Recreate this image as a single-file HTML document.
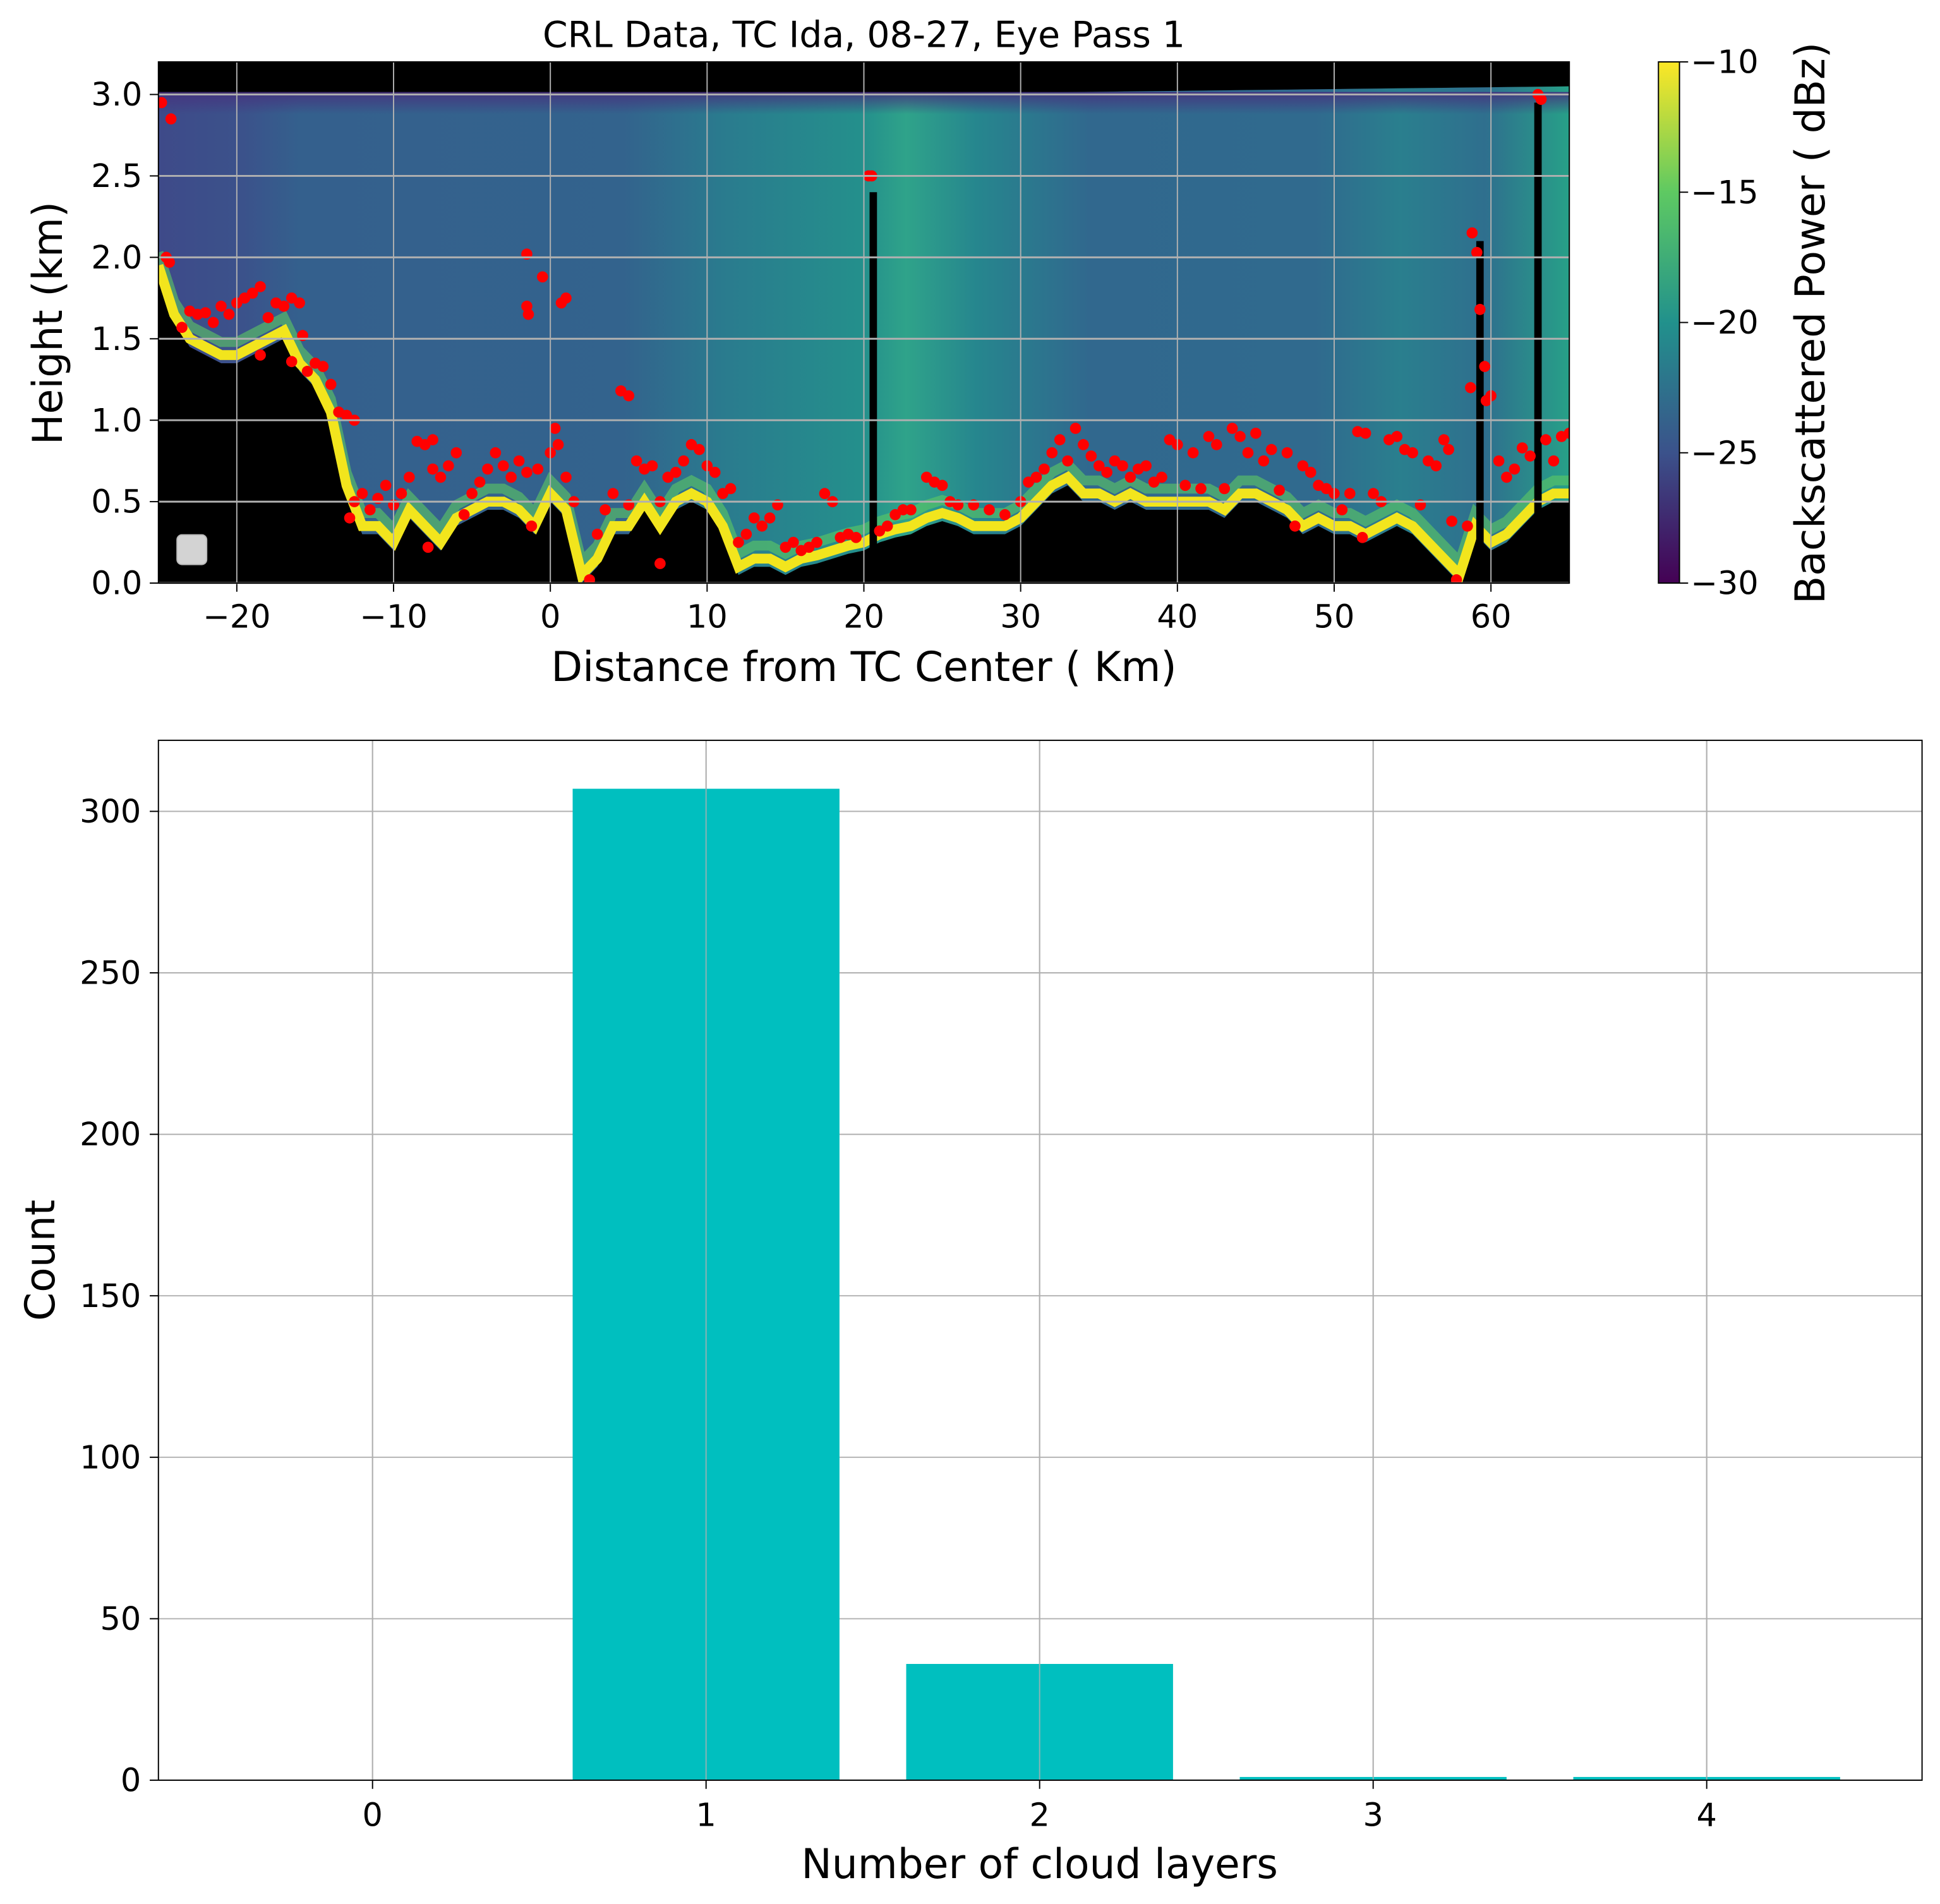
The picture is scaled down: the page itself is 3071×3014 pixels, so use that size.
<!DOCTYPE html>
<html><head><meta charset="utf-8"><style>
html,body{margin:0;padding:0;background:#fff}
svg{display:block;font-family:"DejaVu Sans","Liberation Sans",sans-serif}
</style></head><body>
<svg id="s" width="3071" height="3014" viewBox="0 0 1567.5 1538" preserveAspectRatio="none" xmlns="http://www.w3.org/2000/svg">
<defs>
<linearGradient id="bg" x1="128" x2="1268" y1="0" y2="0" gradientUnits="userSpaceOnUse">
<stop offset="0" stop-color="#3e4a89"/><stop offset="0.06" stop-color="#3b528b"/>
<stop offset="0.1" stop-color="#34608d"/><stop offset="0.33" stop-color="#33638d"/>
<stop offset="0.40" stop-color="#2a7b8e"/><stop offset="0.5" stop-color="#24908c"/>
<stop offset="0.53" stop-color="#2fa38a"/><stop offset="0.58" stop-color="#26868e"/>
<stop offset="0.66" stop-color="#31688e"/><stop offset="0.82" stop-color="#306a8e"/>
<stop offset="0.88" stop-color="#2a7f8e"/><stop offset="0.94" stop-color="#2f6f8e"/>
<stop offset="1" stop-color="#27a088"/></linearGradient>
<linearGradient id="topfade" x1="0" x2="0" y1="0" y2="1">
<stop offset="0" stop-color="#46327e" stop-opacity="0.9"/><stop offset="1" stop-color="#46327e" stop-opacity="0"/></linearGradient>
<linearGradient id="cb" x1="0" x2="0" y1="1" y2="0">
<stop offset="0" stop-color="#440154"/><stop offset="0.25" stop-color="#3b528b"/>
<stop offset="0.5" stop-color="#21918c"/><stop offset="0.75" stop-color="#5ec962"/>
<stop offset="1" stop-color="#fde725"/></linearGradient>
<clipPath id="clipTop"><rect x="128" y="50" width="1140" height="421"/></clipPath>
</defs>
<g id="topPanel" clip-path="url(#clipTop)">
<rect x="128" y="50" width="1140" height="421" fill="#000"/>
</g>
<g id="topAxes"></g>
<text x="698" y="38" font-size="29" text-anchor="middle">CRL Data, TC Ida, 08-27, Eye Pass 1</text>
<text x="698" y="550" font-size="33" text-anchor="middle">Distance from TC Center ( Km)</text>
<text transform="translate(50,261) rotate(-90)" font-size="33" text-anchor="middle">Height (km)</text>
<rect x="143" y="432" width="24" height="24" rx="4" fill="#d3d3d3" stroke="#bbb"/>
<g>
<rect x="1340" y="50" width="17" height="421" fill="url(#cb)" stroke="#000" stroke-width="1"/>
<g id="cbt"></g>
<text transform="translate(1474,261) rotate(-90)" font-size="33" text-anchor="middle">Backscattered Power ( dBz)</text>
</g>
<g id="bottomPanel"></g>
<text x="840" y="1517" font-size="33" text-anchor="middle">Number of cloud layers</text>
<text transform="translate(44,1018) rotate(-90)" font-size="33" text-anchor="middle">Count</text>
</svg>
<script>
const NS="http://www.w3.org/2000/svg";
const xTicks=[-20,-10,0,10,20,30,40,50,60];
const yTicks=[0,0.5,1,1.5,2,2.5,3];
const cbTicks=[-10,-15,-20,-25,-30];
const baseX=[];for(let i=-25;i<=65;i++)baseX.push(i);
const baseH=[1.9,1.6,1.45,1.4,1.35,1.35,1.4,1.45,1.5,1.3,1.2,1.0,0.55,0.3,0.3,0.2,0.4,0.3,0.2,0.35,0.4,0.45,0.45,0.4,0.3,0.5,0.4,0,0.1,0.3,0.3,0.45,0.3,0.45,0.5,0.45,0.3,0.05,0.1,0.1,0.05,0.1,0.12,0.15,0.18,0.2,0.25,0.28,0.3,0.35,0.38,0.35,0.3,0.3,0.3,0.35,0.45,0.55,0.6,0.5,0.5,0.45,0.5,0.45,0.45,0.45,0.45,0.45,0.4,0.5,0.5,0.45,0.4,0.3,0.35,0.3,0.3,0.25,0.3,0.35,0.3,0.2,0.1,0.0,0.3,0.2,0.25,0.35,0.45,0.5,0.5];
const dotX=[-24.8,-24.2,-24.5,-24.3,-23.5,-23,-22.5,-22,-21.5,-21,-20.5,-20,-19.5,-19,-18.5,-18.5,-18,-17.5,-17,-16.5,-16,-16.5,-15.8,-15.5,-15,-14.5,-14,-13.5,-13,-12.5,-12.8,-12.5,-12,-11.5,-11,-10.5,-10,-9.5,-9,-8.5,-8,-7.5,-7.8,-7.5,-7,-6.5,-6,-5.5,-5,-4.5,-4,-3.5,-3,-2.5,-2,-1.5,-1.5,-1.4,-1.5,-0.5,-1.2,-0.8,0,0.3,0.5,0.7,1,1,1.5,2.5,3,3.5,4,4.5,5,5,5.5,6,6.5,7,7,7.5,8,8.5,9,9.5,10,10.5,11,11.5,12,12.5,13,13.5,14,14.5,15,15.5,16,16.5,17,17.5,18,18.5,19,19.5,20.3,20.5,21,21.5,22,22.5,23,24,24.5,25,25.5,26,27,28,29,30,30.5,31,31.5,32,32.5,33,33.5,34,34.5,35,35.5,36,36.5,37,37.5,38,38.5,39,39.5,40,40.5,41,41.5,42,42.5,43,43.5,44,44.5,45,45.5,46,46.5,47,47.5,48,48.5,49,49.5,50,50.5,51,51.5,52,51.8,52.5,53,53.5,54,54.5,55,55.5,56,56.5,57,57.3,57.5,57.8,58.5,58.8,59.1,59.3,59.6,59.7,60,58.7,60.5,61,61.5,62,62.5,63,63.2,63.5,64,64.5,65];
const dotH=[2.95,2.85,2.0,1.97,1.57,1.67,1.65,1.66,1.6,1.7,1.65,1.72,1.75,1.78,1.82,1.4,1.63,1.72,1.7,1.75,1.72,1.36,1.52,1.3,1.35,1.33,1.22,1.05,1.03,1.0,0.4,0.5,0.55,0.45,0.52,0.6,0.48,0.55,0.65,0.87,0.85,0.88,0.22,0.7,0.65,0.72,0.8,0.42,0.55,0.62,0.7,0.8,0.72,0.65,0.75,0.68,2.02,1.65,1.7,1.88,0.35,0.7,0.8,0.95,0.85,1.72,1.75,0.65,0.5,0.02,0.3,0.45,0.55,1.18,1.15,0.48,0.75,0.7,0.72,0.12,0.5,0.65,0.68,0.75,0.85,0.82,0.72,0.68,0.55,0.58,0.25,0.3,0.4,0.35,0.4,0.48,0.22,0.25,0.2,0.22,0.25,0.55,0.5,0.28,0.3,0.28,2.5,2.5,0.32,0.35,0.42,0.45,0.45,0.65,0.62,0.6,0.5,0.48,0.48,0.45,0.42,0.5,0.62,0.65,0.7,0.8,0.88,0.75,0.95,0.85,0.78,0.72,0.68,0.75,0.72,0.65,0.7,0.72,0.62,0.65,0.88,0.85,0.6,0.8,0.58,0.9,0.85,0.58,0.95,0.9,0.8,0.92,0.75,0.82,0.57,0.8,0.35,0.72,0.68,0.6,0.58,0.55,0.45,0.55,0.93,0.92,0.28,0.55,0.5,0.88,0.9,0.82,0.8,0.48,0.75,0.72,0.88,0.82,0.38,0.02,0.35,2.15,2.03,1.68,1.33,1.12,1.15,1.2,0.75,0.65,0.7,0.83,0.78,3.0,2.97,0.88,0.75,0.9,0.92];
const gapX=[20.6,59.3,63.0];
const gapTop=[2.4,2.1,2.95];
const barCats=[0,1,2,3,4];
const barVals=[0,307,36,1,1];
const barTicks=[0,50,100,150,200,250,300];

const X=v=>128+(v+25)*(1140/90);
const Y=v=>471-v*(421/3.2);
const topSurf=v=>3.0+0.05*Math.max(0,(v-20))/45;
function el(t,a,p){const e=document.createElementNS(NS,t);for(const k in a)e.setAttribute(k,a[k]);(p||document.getElementById('s')).appendChild(e);return e;}
const topG=document.getElementById('topPanel');
let d='M'+X(baseX[0])+','+Y(topSurf(baseX[0]));
baseX.forEach(v=>{d+=' L'+X(v)+','+Y(topSurf(v));});
for(let i=baseX.length-1;i>=0;i--){d+=' L'+X(baseX[i])+','+Y(baseH[i]);}
d+=' Z';
let e=el('path',{d:d,fill:'url(#bg)'},topG);


e=el('rect',{x:128,y:Y(3.0)-2,width:1140,height:18,fill:'url(#topfade)'},topG);


let pb='',pg='';
baseX.forEach((v,i)=>{pb+=(i?' L':'M')+X(v)+','+Y(baseH[i]+0.05);pg+=(i?' L':'M')+X(v)+','+Y(baseH[i]+0.13);});
e=el('path',{d:pg,fill:'none',stroke:'#5ec962',"stroke-width":8,"stroke-opacity":0.6},topG);


e=el('path',{d:pb,fill:'none',stroke:'#f2e51d',"stroke-width":8},topG);


gapX.forEach((v,i)=>{
 const g=el('rect',{x:X(v)-3,y:Y(gapTop[i]),width:6,height:Y(0)-Y(gapTop[i]),fill:'#000'},topG);
 
 
});
dotX.forEach((v,i)=>{
 const c=el('circle',{cx:X(v),cy:Y(dotH[i]),r:4.5,fill:'#ff0000'},topG);
 
 
});
const ax=document.getElementById('topAxes');
xTicks.forEach(v=>{
 let l=el('line',{x1:X(v),x2:X(v),y1:50,y2:471,stroke:'#b0b0b0','stroke-width':1},ax);
 
 
 el('line',{x1:X(v),x2:X(v),y1:471,y2:478,stroke:'#000'},ax);
 let t=el('text',{x:X(v),y:507,'font-size':26,'text-anchor':'middle'},ax);t.textContent=(v<0?'\u2212'+(-v):v);
 
 
});
yTicks.forEach(v=>{
 let l=el('line',{x1:128,x2:1268,y1:Y(v),y2:Y(v),stroke:'#b0b0b0','stroke-width':1.5},ax);
 
 
 el('line',{x1:121,x2:128,y1:Y(v),y2:Y(v),stroke:'#000'},ax);
 let t=el('text',{x:115,y:Y(v)+9,'font-size':26,'text-anchor':'end'},ax);t.textContent=v.toFixed(1);
 
 
});
e=el('rect',{x:128,y:50,width:1140,height:421,fill:'none',stroke:'#000','stroke-width':1},ax);


const cbt=document.getElementById('cbt');
cbTicks.forEach(v=>{
 const y=471-(v+30)*(421/20);
 el('line',{x1:1357,x2:1364,y1:y,y2:y,stroke:'#000'},cbt);
 let t=el('text',{x:1366,y:y+9,'font-size':26},cbt);t.textContent='\u2212'+(-v);
 
 
});
const bt=document.getElementById('bottomPanel');
const BX=v=>301+v*269.5;
const BY=v=>1438-v*(840/322);
barCats.forEach(c=>{
 let l=el('line',{x1:BX(c),x2:BX(c),y1:598,y2:1438,stroke:'#b0b0b0'},bt);
 
 
});
barTicks.forEach(v=>{
 let l=el('line',{x1:128,x2:1553,y1:BY(v),y2:BY(v),stroke:'#b0b0b0'},bt);
 
 
 el('line',{x1:121,x2:128,y1:BY(v),y2:BY(v),stroke:'#000'},bt);
 let t=el('text',{x:114,y:BY(v)+9,'font-size':26,'text-anchor':'end'},bt);t.textContent=v;
 
 
});
barCats.forEach((c,i)=>{
 const r=el('rect',{x:BX(c-0.4),y:BY(barVals[i]),width:269.5*0.8,height:BY(0)-BY(barVals[i]),fill:'#00bfbf'},bt);
 
 
});
barCats.forEach(c=>{
 el('line',{x1:BX(c),x2:BX(c),y1:598,y2:1438,stroke:'#b0b0b0','stroke-opacity':0.8},bt);
 el('line',{x1:BX(c),x2:BX(c),y1:1438,y2:1445,stroke:'#000'},bt);
 let t=el('text',{x:BX(c),y:1475,'font-size':26,'text-anchor':'middle'},bt);t.textContent=c;
 
 
});
e=el('rect',{x:128,y:598,width:1425,height:840,fill:'none',stroke:'#000','stroke-width':1},bt);


</script>
</body></html>
